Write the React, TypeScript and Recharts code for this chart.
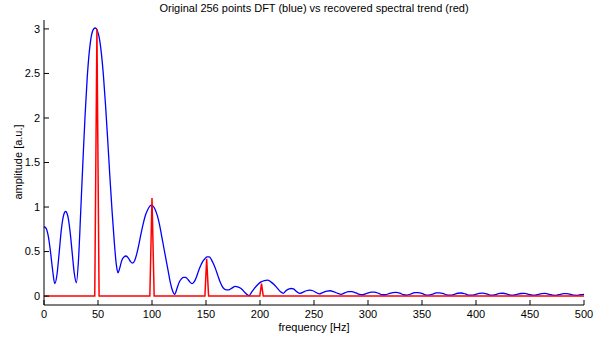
import React from 'react'
import { LineChart, Line, XAxis, YAxis } from 'recharts'

// blue: original 256-point DFT magnitude (interpolated)
const blueFreq = [
	0, 2, 4, 6, 8, 10, 12, 14, 16, 18, 20, 22, 24, 26, 28, 30, 32, 34, 36, 38,
	40, 42, 44, 46, 47.5, 49, 51, 53, 55, 57, 59, 61, 63, 65, 67, 68.5, 70, 72,
	74, 76, 78, 80, 82, 84, 86, 88, 90, 92, 94, 96, 98, 99.5, 101, 103, 105, 107,
	109, 111, 113, 115, 117, 119, 121, 123, 125, 127, 129, 131, 133, 135, 137,
	139, 141, 143, 145, 147, 149, 151, 153, 155, 157, 159, 161, 163, 165, 167,
	169, 171, 174, 177, 180, 183, 186, 189, 190, 192, 195, 198, 201, 204, 207,
	210, 213, 216, 219, 221.5, 224, 227, 229, 231, 234, 237, 240, 243, 246, 249,
	252, 255, 258, 262, 265, 268, 272, 275, 279, 282, 285, 289, 292, 295, 299,
	303, 306, 310, 313, 316, 320, 323, 326, 330, 333, 336, 340, 343, 346, 350,
	353, 356, 360, 363, 366, 370, 373, 376, 380, 383, 386, 390, 393, 396, 400,
	403, 406, 410, 413, 416, 419, 422, 425, 429, 432, 435, 438, 442, 445, 449,
	452, 455, 458, 461, 464, 468, 471, 474, 478, 481, 484, 488, 491, 494, 497,
	500,
]
const blueAmp = [
	0.78, 0.76, 0.67, 0.5, 0.29, 0.14, 0.24, 0.48, 0.74, 0.9, 0.95, 0.9, 0.74,
	0.5, 0.26, 0.15, 0.42, 0.95, 1.5, 2.02, 2.45, 2.75, 2.93, 3.0, 3.01, 2.99,
	2.91, 2.74, 2.48, 2.14, 1.75, 1.34, 0.96, 0.62, 0.35, 0.26, 0.31, 0.4, 0.44,
	0.45, 0.43, 0.39, 0.37, 0.4, 0.48, 0.59, 0.71, 0.82, 0.91, 0.97, 1.01, 1.02,
	1.01, 0.97, 0.9, 0.8, 0.67, 0.54, 0.41, 0.28, 0.15, 0.06, 0.02, 0.08, 0.15,
	0.19, 0.21, 0.21, 0.19, 0.16, 0.14, 0.16, 0.21, 0.28, 0.34, 0.39, 0.42, 0.44,
	0.44, 0.41, 0.36, 0.3, 0.23, 0.16, 0.11, 0.08, 0.07, 0.07, 0.09, 0.11, 0.1,
	0.08, 0.04, 0.01, 0.005, 0.04, 0.09, 0.13, 0.16, 0.175, 0.18, 0.16, 0.13,
	0.09, 0.05, 0.03, 0.06, 0.08, 0.085, 0.08, 0.05, 0.03, 0.045, 0.06, 0.067,
	0.06, 0.04, 0.025, 0.04, 0.055, 0.06, 0.05, 0.03, 0.02, 0.04, 0.05, 0.05,
	0.035, 0.02, 0.015, 0.03, 0.045, 0.045, 0.03, 0.015, 0.015, 0.03, 0.04,
	0.042, 0.03, 0.015, 0.012, 0.025, 0.038, 0.04, 0.03, 0.015, 0.01, 0.022,
	0.035, 0.037, 0.027, 0.013, 0.01, 0.02, 0.032, 0.035, 0.025, 0.012, 0.01,
	0.02, 0.03, 0.033, 0.024, 0.012, 0.01, 0.02, 0.03, 0.032, 0.022, 0.011, 0.01,
	0.02, 0.029, 0.03, 0.02, 0.01, 0.01, 0.02, 0.028, 0.03, 0.02, 0.01, 0.009,
	0.02, 0.027, 0.028, 0.018, 0.01, 0.009, 0.015, 0.02,
]

// red: recovered spectral trend (spikes)
const redFreq = [
	0, 47, 49, 51, 98, 100, 102, 149, 150.6, 152.4, 199.8, 201.4, 203, 500,
]
const redAmp = [0, 0, 3.0, 0, 0, 1.1, 0, 0, 0.42, 0, 0, 0.14, 0, 0]

const xTicks = [0, 50, 100, 150, 200, 250, 300, 350, 400, 450, 500]
const yTicks = [0, 0.5, 1, 1.5, 2, 2.5, 3]

const FONT = '"Liberation Sans", Arial, Helvetica, sans-serif'

export default function App() {
	const blueData = blueFreq.map((f, i) => ({ f, a: blueAmp[i] }))
	const redData = redFreq.map((f, i) => ({ f, a: redAmp[i] }))
	const tickStyle = { fontSize: 11, fill: '#000', fontFamily: FONT }

	return (
		<div
			style={{
				position: 'absolute',
				left: 0,
				top: 0,
				width: 611,
				height: 338,
				background: '#fff',
				fontFamily: FONT,
			}}
		>
			<LineChart
				width={611}
				height={338}
				margin={{ top: 20, right: 27, bottom: 13, left: 0 }}
			>
				<XAxis
					xAxisId="b"
					type="number"
					dataKey="f"
					domain={[0, 500]}
					ticks={xTicks}
					orientation="bottom"
					height={20}
					tickSize={-5}
					tickMargin={10}
					stroke="#000"
					tick={tickStyle}
					allowDuplicatedCategory={false}
				/>
				<XAxis
					xAxisId="t"
					type="number"
					dataKey="f"
					domain={[0, 500]}
					ticks={xTicks}
					orientation="top"
					height={0}
					tickSize={-5}
					tick={false}
					stroke="#000"
				/>
				<YAxis
					yAxisId="l"
					type="number"
					domain={[-0.1, 3.1]}
					ticks={yTicks}
					width={44}
					tickSize={-5}
					tickMargin={9}
					stroke="#000"
					tick={tickStyle}
				/>
				<YAxis
					yAxisId="r"
					type="number"
					orientation="right"
					domain={[-0.1, 3.1]}
					ticks={yTicks}
					width={0}
					tickSize={-5}
					tick={false}
					stroke="#000"
				/>
				<Line
					xAxisId="b"
					yAxisId="l"
					data={blueData}
					dataKey="a"
					type="monotone"
					stroke="#0000ff"
					strokeWidth={1.3}
					dot={false}
					isAnimationActive={false}
				/>
				<Line
					xAxisId="b"
					yAxisId="l"
					data={redData}
					dataKey="a"
					type="linear"
					stroke="#ff0000"
					strokeWidth={1.5}
					dot={false}
					isAnimationActive={false}
				/>
			</LineChart>
			<div
				style={{
					position: 'absolute',
					left: 44,
					width: 540,
					top: 2,
					textAlign: 'center',
					fontSize: 11,
					color: '#000',
				}}
			>
				Original 256 points DFT (blue) vs recovered spectral trend (red)
			</div>
			<div
				style={{
					position: 'absolute',
					left: 44,
					width: 540,
					top: 321,
					textAlign: 'center',
					fontSize: 11,
					lineHeight: '13px',
					color: '#000',
				}}
			>
				frequency [Hz]
			</div>
			<div
				style={{
					position: 'absolute',
					left: 18,
					top: 162,
					transform: 'translate(-50%, -50%) rotate(-90deg)',
					whiteSpace: 'nowrap',
					fontSize: 11,
					color: '#000',
				}}
			>
				amplitude [a.u.]
			</div>
		</div>
	)
}
